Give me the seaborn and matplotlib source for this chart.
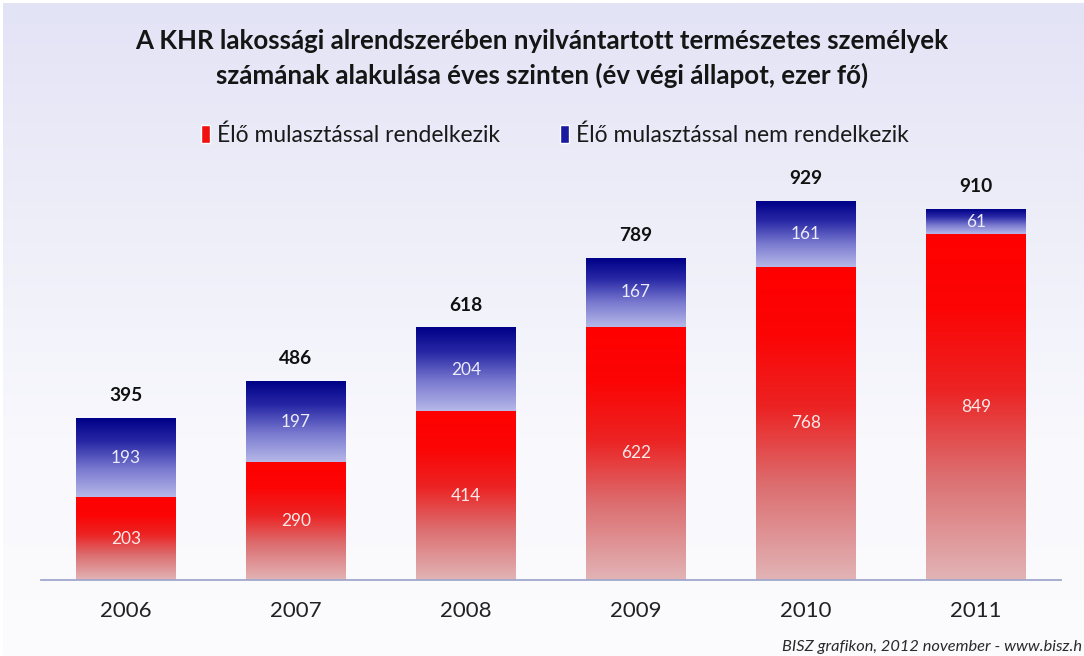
import numpy as np
import pandas as pd
import matplotlib
matplotlib.use("Agg")
import matplotlib.pyplot as plt
import seaborn as sns
from matplotlib.colors import LinearSegmentedColormap
from matplotlib.patches import Patch

# Data (thousand persons, end of year)
years = ["2006", "2007", "2008", "2009", "2010", "2011"]
with_arrears = [203, 290, 414, 622, 768, 849]      # Élő mulasztással rendelkezik
without_arrears = [193, 197, 204, 167, 161, 61]    # Élő mulasztással nem rendelkezik
totals = [395, 486, 618, 789, 929, 910]

title = ("A KHR lakossági alrendszerében nyilvántartott természetes személyek\n"
         "számának alakulása éves szinten (év végi állapot, ezer fő)")
series_names = ["Élő mulasztással rendelkezik", "Élő mulasztással nem rendelkezik"]
footer = "BISZ grafikon, 2012 november - www.bisz.h"

sns.set_theme(style="white")
plt.rcParams["font.family"] = ["Lato", "DejaVu Sans"]

W, H = 1084, 656
fig = plt.figure(figsize=(W / 100, H / 100), dpi=100, facecolor="white")

# soft lavender background fading downwards
bg = fig.add_axes([3 / W, 0, 1 - 3 / W, 1 - 3 / H], zorder=-10)
bg_cmap = LinearSegmentedColormap.from_list("bg", ["#e3e3f6", "#eeeef9", "#f8f8fd", "#fcfcfe"])
bg.imshow(np.linspace(0, 1, 256)[:, None], aspect="auto", cmap=bg_cmap,
          extent=[0, 1, 0, 1], origin="upper")
bg.set_axis_off()

ax = fig.add_axes([41 / W, 76 / H, 1020 / W, 410 / H])
ax.set_facecolor("none")

df = pd.DataFrame({"year": years, "red": with_arrears, "blue": without_arrears})

bar_w = 100 / 170
sns.barplot(data=df, x="year", y="red", ax=ax, width=bar_w, color="#ff0000",
            linewidth=0, saturation=1)
n_red = len(ax.patches)
sns.barplot(data=df, x="year", y="blue", ax=ax, width=bar_w, color="#00008b",
            linewidth=0, saturation=1, bottom=with_arrears)

red_cmap = LinearSegmentedColormap.from_list(
    "redfade", [(0, "#ff0000"), (0.22, "#fc0505"), (0.45, "#ec2323"),
                (0.7, "#dc6e70"), (1, "#e2b4b6")])
blue_cmap = LinearSegmentedColormap.from_list(
    "bluefade", [(0, "#000088"), (0.3, "#2828a6"), (0.65, "#7a7ad0"),
                 (1, "#b6b8e8")])
grad = np.linspace(0, 1, 256)[:, None]

for k, p in enumerate(ax.patches):
    x0, y0, w, h = p.get_x(), p.get_y(), p.get_width(), p.get_height()
    cmap = red_cmap if k < n_red else blue_cmap
    ax.imshow(grad, extent=[x0, x0 + w, y0, y0 + h], aspect="auto",
              cmap=cmap, origin="upper", zorder=2)
    p.set_facecolor("none")

# values inside segments and totals above the bars
for i in range(len(years)):
    ax.text(i, with_arrears[i] / 2, str(with_arrears[i]), ha="center", va="center",
            color="#fbe9e9", fontsize=12.4, zorder=3)
    ax.text(i, with_arrears[i] + without_arrears[i] / 2, str(without_arrears[i]),
            ha="center", va="center", color="#ececfa", fontsize=12.4, zorder=3)
    ax.annotate(str(totals[i]), xy=(i, with_arrears[i] + without_arrears[i]),
                xytext=(0, 16.5), textcoords="offset points", ha="center",
                va="center", fontsize=13.8, fontweight="bold", color="#111111")

ax.set_xlim(-0.5, len(years) - 0.5)
ax.set_ylim(0, 1006)
ax.set_xlabel("")
ax.set_ylabel("")
ax.set_yticks([])
for s in ["top", "left", "right"]:
    ax.spines[s].set_visible(False)
ax.spines["bottom"].set_color("#a0a8cc")
ax.spines["bottom"].set_linewidth(1.3)
ax.tick_params(axis="x", length=0, pad=15, labelsize=16, labelcolor="#222222")

fig.text(0.5, 1 - 58.5 / H, title, ha="center", va="center", fontsize=18.6,
         fontweight="bold", color="#151515", linespacing=1.45)

handles = [Patch(facecolor="#f01010"), Patch(facecolor="#1a1aa0")]
fig.legend(handles, series_names, loc="center", bbox_to_anchor=(555 / W, 1 - 135 / H),
           ncol=2, frameon=False, fontsize=16.5, handlelength=0.4, handleheight=0.85,
           handletextpad=0.3, columnspacing=2.6, labelcolor="#1a1a1a")

fig.text(1082 / W, 1 - 647 / H, footer, ha="right", va="center", fontsize=11.8,
         style="italic", color="#2a2a2a")

fig.savefig("out.png", dpi=100)
